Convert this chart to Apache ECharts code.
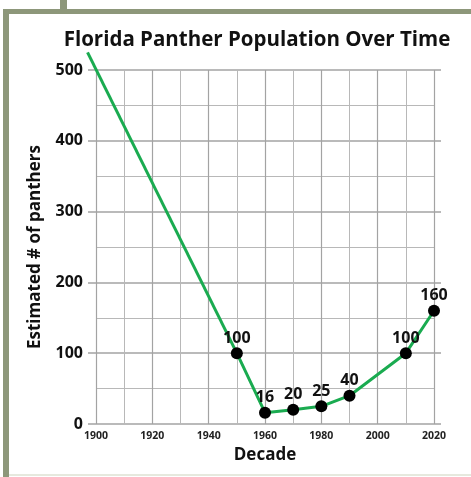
<!DOCTYPE html>
<html>
<head>
<meta charset="utf-8">
<script src="https://cdn.jsdelivr.net/npm/echarts@6/dist/echarts.min.js"></script>
<style>
html,body{margin:0;padding:0;background:#fff;}
#chart{width:471px;height:477px;}
</style>
</head>
<body>
<div id="chart"></div>
<script>
// decades and estimated panther counts (first point is the line's lead-in above the chart)
var years = [1897, 1950, 1960, 1970, 1980, 1990, 2010, 2020];
var counts = [525, 100, 16, 20, 25, 40, 100, 160];

var points = years.map(function(y, i){ return [y, counts[i]]; });
var leadIn = points.slice(0, 2);
var marked = points.slice(1);

var frameColor = '#8d977a';
var gridColor = '#a3a3a3';
var lineColor = '#1aab50';
var font = 'Open Sans';

var chart = echarts.init(document.getElementById('chart'));
var option = {
    backgroundColor:'#fff',
    animation:false,
    title:{
        text:'Florida Panther Population Over Time',
        left:252, top:25, textAlign:'center',
        textStyle:{fontFamily:font, fontWeight:'bold', fontSize:20.5, color:'#111'}
    },
    grid:{left:96, right:37, top:70, bottom:53},
    xAxis:{
        type:'value', min:1900, max:2020, interval:20,
        name:'Decade', nameLocation:'middle', nameGap:22,
        nameTextStyle:{fontFamily:font, fontWeight:'bold', fontSize:17, color:'#111'},
        axisLine:{show:false}, axisTick:{show:false},
        axisLabel:{fontFamily:font, fontWeight:'bold', fontSize:10.5, color:'#222', margin:7,
            formatter:function(v){ return String(v); }},
        splitLine:{show:true, lineStyle:{color:gridColor, width:1.2}},
        minorTick:{show:false, splitNumber:2},
        minorSplitLine:{show:true, lineStyle:{color:'#b8b8b8', width:1}}
    },
    yAxis:[{
        type:'value', min:0, max:500, interval:100,
        name:'Estimated # of panthers', nameLocation:'middle', nameGap:52,
        nameTextStyle:{fontFamily:font, fontWeight:'bold', fontSize:17, color:'#111'},
        axisLine:{show:false},
        axisTick:{show:true, length:8, lineStyle:{color:gridColor, width:1.5}},
        axisLabel:{fontFamily:font, fontWeight:'bold', fontSize:16, color:'#111', margin:13},
        splitLine:{show:true, lineStyle:{color:gridColor, width:1.5}},
        minorTick:{show:false, splitNumber:2},
        minorSplitLine:{show:true, lineStyle:{color:'#b8b8b8', width:1}}
    },{
        type:'value', min:0, max:500, interval:100, position:'right',
        axisLine:{show:false}, axisLabel:{show:false}, splitLine:{show:false},
        axisTick:{show:true, length:7, lineStyle:{color:gridColor, width:1.5}}
    }],
    series:[{
        // lead-in segment that runs past the top-left of the grid
        type:'lines',
        coordinateSystem:'cartesian2d',
        clip:false,
        data:[{coords:leadIn}],
        lineStyle:{color:lineColor, width:3, opacity:1, curveness:0},
        z:4
    },{
        type:'line',
        data:marked,
        symbol:'circle', symbolSize:12,
        itemStyle:{color:'#000'},
        lineStyle:{color:lineColor, width:3},
        label:{show:true, position:'top', distance:1,
            fontFamily:font, fontWeight:'bold', fontSize:16, color:'#111'},
        z:5
    }],
    graphic:[
        {type:'rect', shape:{x:3, y:9, width:6, height:468}, style:{fill:frameColor}, z:10},
        {type:'rect', shape:{x:3, y:9, width:468, height:5}, style:{fill:frameColor}, z:10},
        {type:'rect', shape:{x:60, y:0, width:7, height:10}, style:{fill:frameColor}, z:10},
        {type:'rect', shape:{x:9, y:474, width:462, height:2}, style:{fill:'#e6e9de'}, z:10}
    ]
};
chart.setOption(option);
</script>
</body>
</html>
